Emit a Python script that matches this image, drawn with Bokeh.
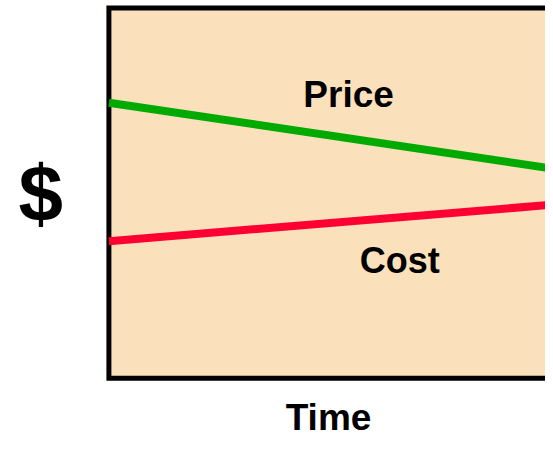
from bokeh.plotting import figure
from bokeh.models import Range1d
from bokeh.core.properties import value
from bokeh.embed import file_html
from bokeh.resources import INLINE

# Data
time = [0, 10]
price = [7.44, 5.69]
cost = [3.70, 4.67]
series_labels = ["Price", "Cost"]
x_label = "Time"
y_label = "$"

FONT = "Liberation Sans"
BG = "#FBE1BB"

p = figure(width=545, height=443, output_backend="svg", toolbar_location=None,
           x_range=Range1d(-2.483, 10.0), y_range=Range1d(-1.763, 10.2),
           min_border=0)
p.background_fill_color = "white"
p.border_fill_color = "white"
p.outline_line_color = None
p.grid.visible = False
p.axis.visible = False

# Box (extends past the right edge)
p.quad(left=[0], right=[10.6], bottom=[0], top=[10], fill_color=BG, line_color=None)
p.line([10.6, 0, 0, 10.6], [10, 10, 0, 0], line_color="black", line_width=5, line_join="miter")

p.line(time, price, line_color="#00AA00", line_width=8, line_cap="butt")
p.line(time, cost, line_color="#FF0033", line_width=8, line_cap="butt")

def label(x, y, txt, size):
    p.text(x=[x], y=[y], text=[txt], text_font=value(FONT), text_font_style="bold",
           text_font_size=size, text_align="center", text_baseline="alphabetic",
           text_color="black")

label(5.49, 7.65, series_labels[0], "37px")
label(6.66, 3.19, series_labels[1], "36px")
label(5.03, -1.06, x_label, "37px")
label(-1.56, 4.99, y_label, "80px")

open("out.html", "w").write(file_html(p, INLINE))
